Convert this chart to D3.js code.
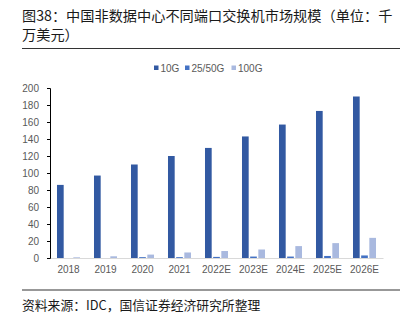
<!DOCTYPE html>
<html><head><meta charset="utf-8">
<script src="https://cdn.jsdelivr.net/npm/d3@7/dist/d3.min.js"></script>
<style>body{margin:0;background:#fff;}svg{display:block;}</style>
</head><body>
<svg id="c" width="408" height="322"></svg>
<script>
const categories = ["2018","2019","2020","2021","2022E","2023E","2024E","2025E","2026E"];
const seriesNames = ["10G","25/50G","100G"];
const s10G = [86, 97, 110, 120, 129.5, 143, 157, 173, 190];
const s2550G = [0, 0, 1, 1, 1.3, 1.7, 1.7, 2.4, 3];
const s100G = [0.8, 2, 4, 6.5, 8.2, 10, 14, 17.5, 23.7];
const yTicks = [0,20,40,60,80,100,120,140,160,180,200];
const colors = ["#3259A2","#4472C4","#A9B9DF"];
const seriesVals = [s10G, s2550G, s100G];

const svg = d3.select("#c");
const cjk = "'Noto Sans CJK SC','Noto Sans',sans-serif";
const lat = "'Liberation Sans',Arial,sans-serif";

// title
svg.append("text").attr("x",22).attr("y",21).attr("font-family",cjk).attr("font-size",14.2).attr("fill","#1a1a1a")
  .text("图38：中国非数据中心不同端口交换机市场规模（单位：千");
svg.append("text").attr("x",22).attr("y",40).attr("font-family",cjk).attr("font-size",14.2).attr("fill","#1a1a1a")
  .text("万美元）");
svg.append("line").attr("x1",22).attr("x2",400).attr("y1",48.5).attr("y2",48.5).attr("stroke","#333").attr("stroke-width",1.2);

const x0 = d3.scaleBand().domain(categories).range([50,383]).paddingInner(0.378).paddingOuter(0.189);
const x1 = d3.scaleBand().domain(seriesNames).range([0,x0.bandwidth()]).paddingInner(0.18);
const y = d3.scaleLinear().domain([0,200]).range([258,88]);

// bars
const g = svg.append("g");
categories.forEach((c,i)=>{
  seriesNames.forEach((s,j)=>{
    const v = seriesVals[j][i];
    g.append("rect").attr("x",x0(c)+x1(s)).attr("width",x1.bandwidth())
      .attr("y",y(v)).attr("height",y(0)-y(v)).attr("fill",colors[j]);
  });
});

// x axis
const xa = svg.append("g").attr("transform","translate(0,258)")
  .call(d3.axisBottom(x0).tickSize(0).tickPadding(8));
xa.select(".domain").attr("stroke","#d9d9d9").attr("stroke-width",1);
xa.selectAll("text").attr("font-family",lat).attr("font-size",10).attr("fill","#595959");

// y axis
const ya = svg.append("g").attr("transform","translate(50,0)")
  .call(d3.axisLeft(y).tickValues(yTicks).tickSize(3).tickSizeOuter(3).tickPadding(8));
ya.select(".domain").attr("stroke","#000").attr("stroke-width",1);
ya.selectAll(".tick line").attr("stroke","#000");
ya.selectAll("text").attr("font-family",lat).attr("font-size",10).attr("fill","#595959");

// legend
const legX = [154,185,231.5];
seriesNames.forEach((s,j)=>{
  svg.append("rect").attr("x",legX[j]).attr("y",65.5).attr("width",4.5).attr("height",4.5).attr("fill",colors[j]);
  svg.append("text").attr("x",legX[j]+6.5).attr("y",71.8).attr("font-family",lat).attr("font-size",10).attr("fill","#595959").text(s);
});

// footer
svg.append("line").attr("x1",22).attr("x2",400).attr("y1",290).attr("y2",290).attr("stroke","#333").attr("stroke-width",1.2);
svg.append("text").attr("x",22).attr("y",309.5).attr("font-family",cjk).attr("font-size",12.8).attr("fill","#1a1a1a")
  .text("资料来源：IDC，国信证券经济研究所整理");
</script>
</body></html>
